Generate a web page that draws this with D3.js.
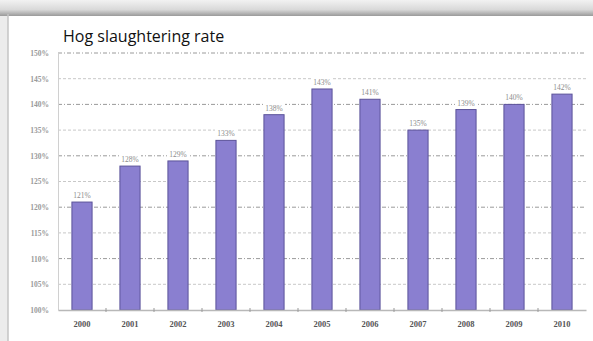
<!DOCTYPE html>
<html>
<head>
<meta charset="utf-8">
<script src="https://cdn.jsdelivr.net/npm/d3@7"></script>
<style>
  html, body { margin: 0; padding: 0; background: #fff; }
  svg { display: block; }
</style>
</head>
<body>
<svg id="chart" width="593" height="341"></svg>
<script>
// Hog slaughtering rate by year (percent)
const years = ["2000", "2001", "2002", "2003", "2004", "2005", "2006", "2007", "2008", "2009", "2010"];
const rates = [121, 128, 129, 133, 138, 143, 141, 135, 139, 140, 142];
const yTicks = [100, 105, 110, 115, 120, 125, 130, 135, 140, 145, 150];

const svg = d3.select("#chart");
const W = 593, H = 341;

// frame: shaded top strip and left edge of the panel
const defs = svg.append("defs");
const g1 = defs.append("linearGradient").attr("id", "topShade").attr("x1", 0).attr("y1", 0).attr("x2", 0).attr("y2", 1);
g1.append("stop").attr("offset", "0%").attr("stop-color", "#f2f2f2");
g1.append("stop").attr("offset", "60%").attr("stop-color", "#d9d9d9");
g1.append("stop").attr("offset", "100%").attr("stop-color", "#9a9a9a");
svg.append("rect").attr("x", 0).attr("y", 0).attr("width", W).attr("height", 16).attr("fill", "url(#topShade)");
svg.append("rect").attr("x", 0).attr("y", 16).attr("width", 8).attr("height", H - 16).attr("fill", "#ececec");
svg.append("line").attr("x1", 8).attr("x2", 8).attr("y1", 14).attr("y2", H).attr("stroke", "#c4c4c4").attr("stroke-width", 1.5);

const plot = { left: 58, right: 586, top: 53, bottom: 310 };

const x = d3.scaleBand().domain(years).range([plot.left, plot.right]).paddingInner(0.58).paddingOuter(0.29);
const y = d3.scaleLinear().domain([100, 150]).range([plot.bottom, plot.top]);

// horizontal gridlines
svg.append("g")
  .selectAll("line")
  .data(yTicks.slice(1))
  .join("line")
  .attr("x1", plot.left).attr("x2", plot.right)
  .attr("y1", d => y(d)).attr("y2", d => y(d))
  .attr("stroke", (d, i) => i % 2 ? "#9a9a9a" : "#c8c8c8")
  .attr("stroke-width", 1)
  .attr("stroke-dasharray", (d, i) => i % 2 ? "4,2,1,2" : "3,2");

// y axis
const yAxis = d3.axisLeft(y).tickValues(yTicks).tickSize(0).tickPadding(9).tickFormat(d => d + "%");
const ya = svg.append("g").attr("transform", `translate(${plot.left},0)`).call(yAxis);
ya.select(".domain").attr("stroke", "#d0d0d0");
ya.selectAll("text")
  .attr("font-family", "Liberation Serif, serif")
  .attr("font-size", 7.5)
  .attr("font-weight", "bold")
  .attr("fill", "#9a9a9a");

// bars
svg.append("g")
  .selectAll("rect")
  .data(years)
  .join("rect")
  .attr("x", d => x(d))
  .attr("width", x.bandwidth())
  .attr("y", (d, i) => y(rates[i]))
  .attr("height", (d, i) => y(100) - y(rates[i]))
  .attr("fill", "#8a7fd0")
  .attr("stroke", "#5c5399")
  .attr("stroke-width", 1);

// value labels
const lab = svg.append("g").selectAll("g").data(years).join("g")
  .attr("transform", (d, i) => `translate(${x(d) + x.bandwidth() / 2},${y(rates[i]) - 4})`);
lab.append("rect").attr("x", -11).attr("y", -8).attr("width", 22).attr("height", 10).attr("fill", "#fff");
lab.append("text")
  .attr("text-anchor", "middle")
  .attr("font-family", "Liberation Serif, serif")
  .attr("font-size", 7.5)
  .attr("fill", "#8c8c8c")
  .text((d, i) => rates[i] + "%");

// x axis
const xAxis = d3.axisBottom(x).tickSize(0).tickPadding(11);
const xa = svg.append("g").attr("transform", `translate(0,${plot.bottom})`).call(xAxis);
xa.select(".domain").attr("stroke", "#b8b8b8").attr("stroke-width", 1.5);
xa.selectAll("text")
  .attr("font-family", "Liberation Serif, serif")
  .attr("font-size", 8.5)
  .attr("font-weight", "bold")
  .attr("fill", "#555");
// small tick marks between categories
svg.append("g").selectAll("line")
  .data(years.slice(1))
  .join("line")
  .attr("x1", d => x(d) - x.step() * x.paddingInner() / 2)
  .attr("x2", d => x(d) - x.step() * x.paddingInner() / 2)
  .attr("y1", plot.bottom - 2).attr("y2", plot.bottom + 2)
  .attr("stroke", "#999");

// title
svg.append("rect").attr("x", 58).attr("y", 24).attr("width", 180).attr("height", 24).attr("fill", "#fff");
svg.append("text")
  .attr("x", 63).attr("y", 42)
  .attr("font-family", "Open Sans, sans-serif")
  .attr("font-size", 16)
  .attr("fill", "#111")
  .text("Hog slaughtering rate");
</script>
</body>
</html>
